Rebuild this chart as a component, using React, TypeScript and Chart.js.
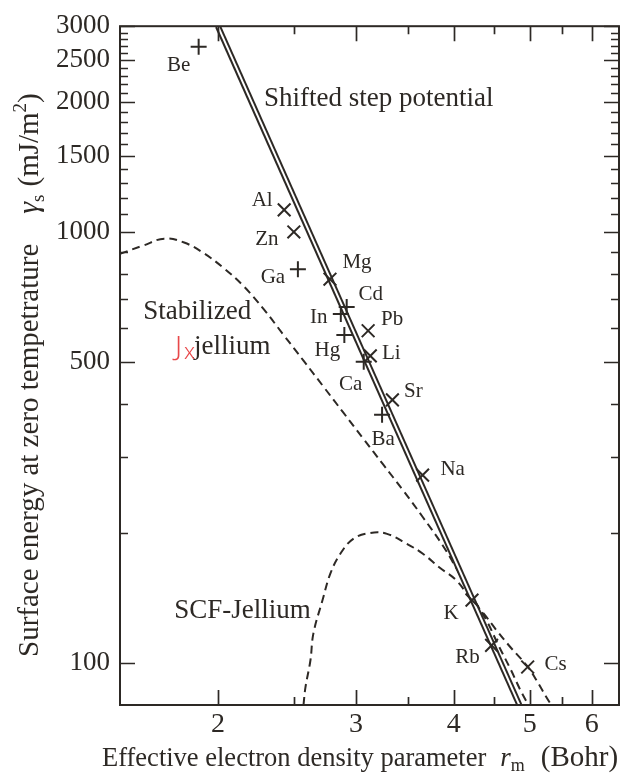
import React, { useEffect, useRef } from 'react';
import { Chart, registerables } from 'chart.js';

Chart.register(...registerables);

const INK = '#2d2925';
const SERIF = '"Liberation Serif", "Times New Roman", serif';

// ---- axes ----
const xMin = 1.5;
const xMax = 6.5;
const yMin = 80;
const yMax = 3000;
const xTickValues = [2, 2.5, 3, 3.5, 4, 4.5, 5, 5.5, 6];
const xTickLabels = ['2', '', '3', '', '4', '', '5', '', '6'];
const yTickValues = [100, 200, 300, 400, 500, 600, 700, 800, 900, 1000, 1100, 1200, 1300, 1400, 1500, 1600, 1700, 1800, 1900, 2000, 2100, 2200, 2300, 2400, 2500, 2600, 2700, 2800, 2900, 3000];
const yTickLabels = ['100', '', '', '', '500', '', '', '', '', '1000', '', '', '', '', '1500', '', '', '', '', '2000', '', '', '', '', '2500', '', '', '', '', '3000'];

// ---- measured metals ----
const plusElements = ['Be', 'Ga', 'Cd', 'In', 'Hg', 'Ca', 'Ba'];
const plusRm = [1.89, 2.53, 2.92, 2.87, 2.90, 3.07, 3.24];
const plusGamma = [2690, 820, 670, 645, 577, 500, 377];

const crossElements = ['Al', 'Zn', 'Mg', 'Pb', 'Li', 'Sr', 'Na', 'K', 'Rb', 'Cs'];
const crossRm = [2.43, 2.50, 2.78, 3.11, 3.13, 3.34, 3.65, 4.22, 4.47, 4.97];
const crossGamma = [1125, 1000, 777, 590, 516, 408, 273, 140, 110, 98];

// ---- model curves ----
const stepRm = [2.0, 4.85];
const stepGamma = [3000, 80];

const stabRm = [1.5, 1.606, 1.708, 1.811, 1.92, 2.035, 2.158, 2.288, 2.426, 2.572, 2.727, 2.892, 3.065, 3.25, 3.445, 3.653, 3.876, 4.045, 4.187, 4.403, 4.561, 4.732, 4.865, 4.98];
const stabGamma = [890, 930, 965, 945, 892, 824, 748, 662, 577, 503, 438, 381, 332, 289, 252, 218, 187, 164, 146, 125.7, 110, 96.4, 86.6, 80];

const scfRm = [2.572, 2.587, 2.625, 2.648, 2.719, 2.783, 2.866, 2.977, 3.129, 3.288, 3.486, 3.653, 3.839, 4.033, 4.217, 4.366, 4.536, 4.725, 4.966, 5.098, 5.249, 5.327];
const scfGamma = [80, 88, 101.6, 117.3, 139.7, 161.3, 179.4, 194.2, 200.5, 199.5, 189.1, 179.4, 166.5, 155.4, 139.7, 130.4, 119.2, 108.9, 98.4, 91.4, 83.5, 80];

// ---- annotation texts (anchored in data coordinates) ----
const noteTexts = ['Shifted step potential', 'Stabilized', 'jellium', 'SCF-Jellium'];
const noteRm = [2.29, 1.606, 1.864, 1.759];
const noteGamma = [2040, 652, 541, 132.5];

// label offsets in px relative to marker
const labelOffsets: Record<string, [number, number]> = {
  Be: [-20, 19], Al: [-22, -9], Zn: [-27, 8], Ga: [-25, 8], Mg: [27, -17],
  Cd: [24, -12], In: [-22, 3], Pb: [24, -11], Hg: [-17, 16], Li: [21, -2],
  Ca: [-13, 23], Sr: [21, -8], Ba: [1, 25], Na: [30, -6], K: [-21, 13],
  Rb: [-24, 12], Cs: [28, -3],
};

const toPts = (xs: number[], ys: number[]) => xs.map((x, i) => ({ x, y: ys[i] }));

type Seg = { t: string; size: number; italic?: boolean; dy?: number; gap?: number };
function drawRich(ctx: CanvasRenderingContext2D, segs: Seg[], x: number, y: number) {
  let cx = x;
  for (const s of segs) {
    cx += s.gap || 0;
    ctx.font = `${s.italic ? 'italic ' : ''}${s.size}px ${SERIF}`;
    ctx.fillText(s.t, cx, y + (s.dy || 0));
    cx += ctx.measureText(s.t).width;
  }
}

const framePlugin = {
  id: 'frameTicks',
  afterDatasetsDraw(chart: any) {
    const { ctx, chartArea: a, scales } = chart;
    const xs = scales.x;
    const ys = scales.y;
    ctx.save();
    ctx.strokeStyle = INK;
    ctx.lineWidth = 2;
    ctx.strokeRect(a.left, a.top, a.right - a.left, a.bottom - a.top);
    ctx.lineWidth = 1.7;
    ctx.beginPath();
    xs.ticks.forEach((t: any) => {
      const px = Math.round(xs.getPixelForValue(t.value)) + 0.5;
      const len = t.label ? 15 : 8;
      ctx.moveTo(px, a.bottom);
      ctx.lineTo(px, a.bottom - len);
      ctx.moveTo(px, a.top);
      ctx.lineTo(px, a.top + len);
    });
    ys.ticks.forEach((t: any) => {
      const py = Math.round(ys.getPixelForValue(t.value)) + 0.5;
      const len = t.label ? 15 : 8;
      ctx.moveTo(a.left, py);
      ctx.lineTo(a.left + len, py);
      ctx.moveTo(a.right, py);
      ctx.lineTo(a.right - len, py);
    });
    ctx.stroke();
    ctx.restore();
  },
};

const textPlugin = {
  id: 'texts',
  afterDraw(chart: any) {
    const { ctx, scales } = chart;
    const xs = scales.x;
    const ys = scales.y;
    ctx.save();
    ctx.fillStyle = INK;

    // element labels
    ctx.font = `21px ${SERIF}`;
    ctx.textAlign = 'center';
    ctx.textBaseline = 'middle';
    const drawLabels = (names: string[], rms: number[], gs: number[]) => {
      names.forEach((n, i) => {
        const off = labelOffsets[n] || [0, 0];
        ctx.fillText(n, xs.getPixelForValue(rms[i]) + off[0], ys.getPixelForValue(gs[i]) + off[1]);
      });
    };
    drawLabels(plusElements, plusRm, plusGamma);
    drawLabels(crossElements, crossRm, crossGamma);

    // curve annotations
    ctx.font = `27px ${SERIF}`;
    ctx.textAlign = 'left';
    noteTexts.forEach((t, i) => {
      ctx.fillText(t, xs.getPixelForValue(noteRm[i]), ys.getPixelForValue(noteGamma[i]));
    });

    // red handwritten mark
    ctx.save();
    ctx.fillStyle = '#e8484a';
    ctx.font = `300 28px "Noto Sans", sans-serif`;
    ctx.textAlign = 'right';
    const jx = xs.getPixelForValue(1.864);
    const jy = ys.getPixelForValue(541);
    ctx.fillText('J', jx - 12, jy + 1);
    ctx.font = `300 22px "Noto Sans", sans-serif`;
    ctx.textAlign = 'left';
    ctx.fillText('x', jx - 10, jy + 6);
    ctx.restore();

    // axis titles
    ctx.textAlign = 'left';
    ctx.textBaseline = 'alphabetic';
    drawRich(ctx, [
      { t: 'Effective electron density parameter', size: 26.5 },
      { t: 'r', size: 27, italic: true, gap: 14 },
      { t: 'm', size: 18, dy: 5 },
      { t: '(Bohr)', size: 29, gap: 16 },
    ], 102, 766);

    ctx.save();
    ctx.translate(38, 657);
    ctx.rotate(-Math.PI / 2);
    drawRich(ctx, [
      { t: 'Surface energy at zero tempetrature', size: 29 },
      { t: 'γ', size: 30, italic: true, gap: 30 },
      { t: 's', size: 19, dy: 6 },
      { t: '(mJ/m', size: 29, gap: 8 },
      { t: '2', size: 19, dy: -12 },
      { t: ')', size: 29 },
    ], 0, 0);
    ctx.restore();

    ctx.restore();
  },
};

export default function App() {
  const ref = useRef<HTMLCanvasElement>(null);

  useEffect(() => {
    document.body.style.margin = '0';
    if (!ref.current) return;
    const lineBase = { showLine: true, pointRadius: 0, pointHoverRadius: 0, fill: false };
    const chart = new Chart(ref.current, {
      type: 'scatter',
      data: {
        datasets: [
          {
            label: 'plus', data: toPts(plusRm, plusGamma), pointStyle: 'cross', pointRadius: 8,
            pointBorderWidth: 2, pointBorderColor: INK, borderColor: INK, backgroundColor: INK, order: 0,
          },
          {
            label: 'cross', data: toPts(crossRm, crossGamma), pointStyle: 'crossRot', pointRadius: 9,
            pointBorderWidth: 2, pointBorderColor: INK, borderColor: INK, backgroundColor: INK, order: 0,
          },
          { ...lineBase, label: 'step-inner', data: toPts(stepRm, stepGamma), borderColor: '#ffffff', borderWidth: 2, order: 1 },
          { ...lineBase, label: 'step-outer', data: toPts(stepRm, stepGamma), borderColor: INK, borderWidth: 6, order: 2 },
          {
            ...lineBase, label: 'Stabilized jellium', data: toPts(stabRm, stabGamma), borderColor: INK, borderWidth: 2,
            borderDash: [8, 5], tension: 0.4, order: 3,
          },
          {
            ...lineBase, label: 'SCF-Jellium', data: toPts(scfRm, scfGamma), borderColor: INK, borderWidth: 2,
            borderDash: [8, 5], tension: 0.4, order: 3,
          },
        ] as any,
      },
      options: {
        animation: false,
        responsive: false,
        devicePixelRatio: 1,
        layout: { padding: { top: 22, right: 17, left: 0, bottom: 0 } },
        plugins: { legend: { display: false }, tooltip: { enabled: false }, title: { display: false } },
        scales: {
          x: {
            type: 'logarithmic',
            position: 'bottom',
            min: xMin,
            max: xMax,
            grid: { display: false, drawTicks: false },
            border: { display: false },
            afterBuildTicks: (s: any) => { s.ticks = xTickValues.map((v) => ({ value: v })); },
            afterFit: (s: any) => { s.height = 70; },
            ticks: {
              autoSkip: false, maxRotation: 0, minRotation: 0, padding: 3, color: INK,
              font: { family: SERIF, size: 28 },
              callback: (v: any) => { const i = xTickValues.indexOf(Number(v)); return i >= 0 ? xTickLabels[i] : ''; },
            },
          },
          y: {
            type: 'logarithmic',
            position: 'left',
            min: yMin,
            max: yMax,
            grid: { display: false, drawTicks: false },
            border: { display: false },
            afterBuildTicks: (s: any) => { s.ticks = yTickValues.map((v) => ({ value: v })); },
            afterFit: (s: any) => { s.width = 120; },
            ticks: {
              autoSkip: false, padding: 10, color: INK,
              font: { family: SERIF, size: 27 },
              callback: (v: any) => { const i = yTickValues.indexOf(Number(v)); return i >= 0 ? yTickLabels[i] : ''; },
            },
          },
        },
      } as any,
      plugins: [framePlugin, textPlugin],
    });
    return () => chart.destroy();
  }, []);

  return (
    <div style={{ width: 636, height: 775, background: '#ffffff' }}>
      <canvas ref={ref} width={636} height={775} style={{ display: 'block' }} />
    </div>
  );
}
